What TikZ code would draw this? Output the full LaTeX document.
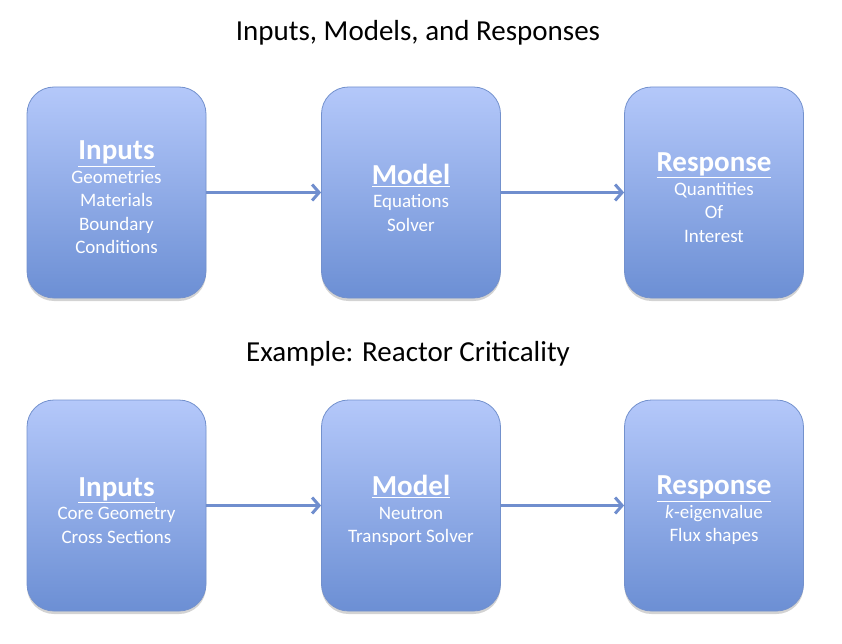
\documentclass[tikz,border=0pt]{standalone}
\usepackage{fontspec}
\setmainfont{Carlito}
\usetikzlibrary{arrows.meta,shadows}
\definecolor{boxtop}{RGB}{180,200,250}
\definecolor{boxbot}{RGB}{108,143,212}
\definecolor{boxline}{RGB}{115,145,205}
\definecolor{arrowc}{RGB}{112,142,206}
\tikzset{
  card/.style={rectangle, rounded corners=27pt, minimum width=179pt, minimum height=211pt,
    top color=boxtop, bottom color=boxbot, draw=boxline, line width=0.8pt,
    drop shadow={opacity=0.35, shadow xshift=0pt, shadow yshift=-3pt}, inner sep=0pt},
  cardtext/.style={text=white, align=center, font=\fontsize{19}{23.5}\selectfont, inner sep=0pt},
  link/.style={draw=arrowc, line width=3pt, -{Straight Barb[length=7pt,width=16pt,line width=3pt]}},
  heading/.style={font=\fontsize{29}{33}\selectfont}
}
\newcommand{\hd}[1]{{\fontsize{29}{30}\selectfont\bfseries\underline{#1}}}
\begin{document}
\begin{tikzpicture}[x=1pt,y=-1pt]
\useasboundingbox (0,0) rectangle (842,644);
\node[heading] (t1) at (418,33) {Inputs, Models, and Responses};
\node[heading] (t2) at (408,354) {Example: Reactor Criticality};

\node[card] (in1) at (116.5,192.5) {};
\node[card] (mo1) at (411,192.5) {};
\node[card] (re1) at (714,192.5) {};
\node[card] (in2) at (116.5,505.5) {};
\node[card] (mo2) at (411,505.5) {};
\node[card] (re2) at (714,505.5) {};

\node[cardtext] (in1t) at ([yshift=-5pt]in1.center) {\hd{Inputs}\\Geometries\\Materials\\Boundary\\Conditions};
\node[cardtext] (mo1t) at ([yshift=-5pt]mo1.center) {\hd{Model}\\Equations\\Solver};
\node[cardtext] (re1t) at ([yshift=-5pt]re1.center) {\hd{Response}\\Quantities\\Of\\Interest};
\node[cardtext] (in2t) at ([yshift=-5pt]in2.center) {\hd{Inputs}\\Core Geometry\\Cross Sections};
\node[cardtext] (mo2t) at ([yshift=-5pt]mo2.center) {\hd{Model}\\Neutron\\Transport Solver};
\node[cardtext] (re2t) at ([yshift=-5pt]re2.center) {\hd{Response}\\\textit{k}-eigenvalue\\Flux shapes};

\draw[link] (in1.east) -- (mo1.west);
\draw[link] (mo1.east) -- (re1.west);
\draw[link] (in2.east) -- (mo2.west);
\draw[link] (mo2.east) -- (re2.west);
\end{tikzpicture}
\end{document}
